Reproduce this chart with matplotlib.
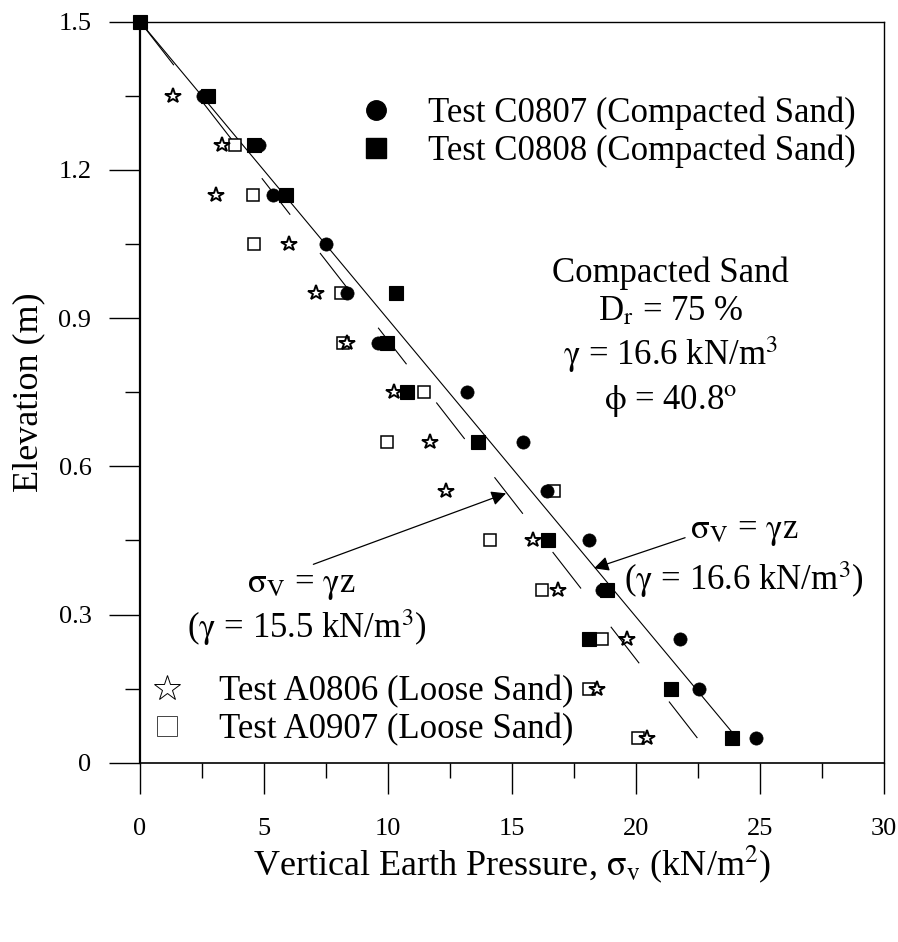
import numpy as np
import matplotlib
matplotlib.use("Agg")
import matplotlib.pyplot as plt
from matplotlib.lines import Line2D
from matplotlib.ticker import MultipleLocator, FuncFormatter

plt.rcParams['font.family'] = ['Liberation Serif', 'DejaVu Serif']
plt.rcParams['mathtext.fontset'] = 'stix'
plt.rcParams['lines.scale_dashes'] = False

# elevation (m) of the pressure cells and measured vertical pressure (kN/m2)
elev_c0807 = [1.5, 1.35, 1.25, 1.15, 1.05, 0.95, 0.85, 0.75, 0.65, 0.55, 0.45, 0.35, 0.25, 0.15, 0.05]
sv_c0807 = [0.0, 2.54, 4.80, 5.36, 7.49, 8.33, 9.60, 13.17, 15.46, 16.40, 18.12, 18.62, 21.77, 22.55, 24.84]

elev_c0808 = [1.5, 1.35, 1.25, 1.15, 0.95, 0.85, 0.75, 0.65, 0.45, 0.35, 0.25, 0.15, 0.05]
sv_c0808 = [0.0, 2.74, 4.60, 5.89, 10.31, 9.95, 10.75, 13.64, 16.46, 18.82, 18.12, 21.40, 23.88]

elev_a0806 = [1.35, 1.25, 1.15, 1.05, 0.95, 0.85, 0.75, 0.65, 0.55, 0.45, 0.35, 0.25, 0.15, 0.05]
sv_a0806 = [1.32, 3.32, 3.06, 6.02, 7.10, 8.36, 10.24, 11.69, 12.33, 15.83, 16.87, 19.65, 18.42, 20.43]

elev_a0907 = [1.25, 1.15, 1.05, 0.95, 0.85, 0.75, 0.65, 0.55, 0.45, 0.35, 0.25, 0.15, 0.05]
sv_a0907 = [3.83, 4.57, 4.60, 8.10, 8.20, 11.45, 9.95, 16.70, 14.11, 16.22, 18.62, 18.12, 20.07]

# theoretical lines sigma_v = gamma * z, z measured from the top (1.5 m)
top_elev = 1.5
z_range = [0.0, 1.45]
gamma_dense = 16.6
gamma_loose = 15.5

fig = plt.figure(figsize=(8.98, 9.42), dpi=100)
ax = fig.add_axes([0.1559, 0.1903, 0.8285, 0.7867])

z = np.array(z_range)
ax.plot(gamma_dense * z, top_elev - z, '-', color='black', lw=0.8, zorder=2)
zr = z[::-1]
ax.plot(gamma_loose * zr, top_elev - zr, color='black', lw=0.8,
        dashes=(33.3, 34.9), zorder=2)

ax.plot(sv_a0907, elev_a0907, 's', ms=8.5, mfc='white', mec='black', mew=1.1, zorder=3, clip_on=False)
ax.plot(sv_a0806, elev_a0806, '*', ms=11.5, mfc='white', mec='black', mew=1.4, zorder=4, clip_on=False)
ax.plot(sv_c0807, elev_c0807, 'o', ms=9.5, mfc='black', mec='black', mew=0.5, zorder=5, clip_on=False)
ax.plot(sv_c0808, elev_c0808, 's', ms=10, mfc='black', mec='black', mew=0.8, zorder=6, clip_on=False)

ax.set_xlim(0, 30)
ax.set_ylim(0, 1.5)
ax.xaxis.set_major_locator(MultipleLocator(5))
ax.xaxis.set_minor_locator(MultipleLocator(2.5))
ax.yaxis.set_major_locator(MultipleLocator(0.3))
ax.yaxis.set_minor_locator(MultipleLocator(0.15))
ax.xaxis.set_major_formatter(FuncFormatter(lambda v, p: '%d' % round(v)))
ax.yaxis.set_major_formatter(FuncFormatter(lambda v, p: '0' if abs(v) < 1e-9 else '%.1f' % v))
ax.tick_params(which='major', direction='out', length=22, width=1, labelsize=19, pad=13)
ax.tick_params(which='minor', direction='out', length=11, width=1)
ax.tick_params(axis='x', which='major', pad=18)
for s in ax.spines.values():
    s.set_linewidth(1.0)
ax.spines['left'].set_linewidth(1.6)
ax.spines['bottom'].set_linewidth(1.2)

ax.set_ylabel('Elevation (m)', fontsize=26, labelpad=9)
ax.set_xlabel(r'Vertical Earth Pressure, $\mathrm{\sigma_v}$ (kN/m$^2$)', fontsize=26, labelpad=2)

# soil properties block
ax.text(21.4, 0.9727, 'Compacted Sand', fontsize=25, ha='center', va='baseline')
ax.text(21.4, 0.896, r'D$_\mathrm{r}$ = 75 %', fontsize=25, ha='center', va='baseline')
ax.text(21.4, 0.805, r'$\mathrm{\gamma}$ = 16.6 kN/m$^3$', fontsize=25, ha='center', va='baseline')
ax.text(21.4, 0.716, r'$\mathrm{\phi}$ = 40.8$^\mathrm{o}$', fontsize=25, ha='center', va='baseline')

# annotations for the two theoretical lines
arrow = dict(arrowstyle='-|>', color='black', lw=0.9, mutation_scale=22,
             shrinkA=0, shrinkB=0)
ax.annotate('', xy=(14.76, 0.5453), xytext=(6.99, 0.4016), arrowprops=arrow)
ax.text(6.51, 0.346, r'$\mathrm{\sigma_V}$ = $\mathrm{\gamma}$z', fontsize=25, ha='center', va='baseline')
ax.text(6.72, 0.2524, r'($\mathrm{\gamma}$ = 15.5 kN/m$^3$)', fontsize=25, ha='center', va='baseline')

ax.annotate('', xy=(18.31, 0.3935), xytext=(21.98, 0.4555), arrowprops=arrow)
ax.text(24.35, 0.4555, r'$\mathrm{\sigma_V}$ = $\mathrm{\gamma}$z', fontsize=25, ha='center', va='baseline')
ax.text(24.35, 0.3496, r'($\mathrm{\gamma}$ = 16.6 kN/m$^3$)', fontsize=25, ha='center', va='baseline')

leg_kw = dict(loc='upper left', frameon=False, fontsize=25, borderpad=0, borderaxespad=0,
              handlelength=1.0, handletextpad=1.0, labelspacing=0.12)
dense_handles = [
    Line2D([], [], ls='none', marker='o', ms=14, mfc='black', mec='black'),
    Line2D([], [], ls='none', marker='s', ms=14, mfc='black', mec='black'),
]
leg1 = ax.legend(dense_handles, ['Test C0807 (Compacted Sand)', 'Test C0808 (Compacted Sand)'],
                 bbox_to_anchor=(0.2944, 0.899), **leg_kw)
ax.add_artist(leg1)

loose_handles = [
    Line2D([], [], ls='none', marker='*', ms=19, mfc='white', mec='black', mew=0.7),
    Line2D([], [], ls='none', marker='s', ms=14, mfc='white', mec='#444444', mew=0.7),
]
ax.legend(loose_handles, ['Test A0806 (Loose Sand)', 'Test A0907 (Loose Sand)'],
          bbox_to_anchor=(0.0128, 0.118), **leg_kw)

fig.savefig('out.png', dpi=100)
